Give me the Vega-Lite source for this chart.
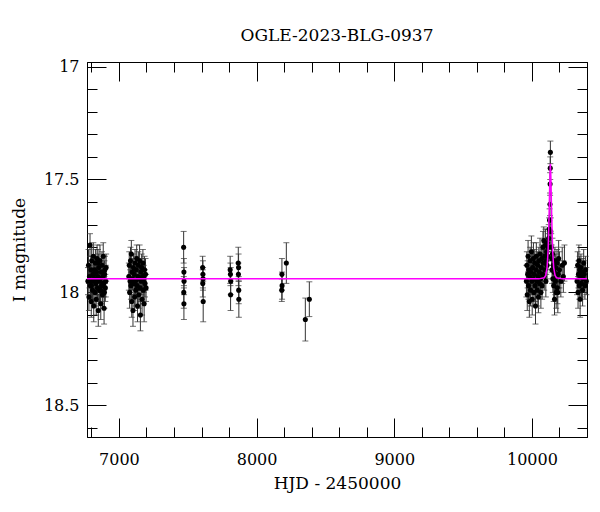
{
  "$schema": "https://vega.github.io/schema/vega-lite/v6.json",
  "width": 500,
  "height": 375,
  "autosize": {"type": "none"},
  "padding": {"left": 87, "top": 62, "right": 13, "bottom": 75},
  "background": "white",
  "title": {"text": "OGLE-2023-BLG-0937", "font": "DejaVu Serif", "fontSize": 17, "fontWeight": "normal", "color": "black", "offset": 14},
  "config": {"view": {"stroke": "black", "strokeWidth": 1}},
  "datasets": {
    "obs": [
      {"t":6775,"m":17.95,"e":0.06},{"t":6779,"m":17.88,"e":0.07},{"t":6782,"m":18.02,"e":0.06},{"t":6786,"m":17.93,"e":0.05},
      {"t":6790,"m":17.79,"e":0.05},{"t":6793,"m":17.97,"e":0.06},{"t":6796,"m":17.90,"e":0.06},{"t":6799,"m":18.04,"e":0.07},
      {"t":6800,"m":17.97,"e":0.06},{"t":6802,"m":17.86,"e":0.06},{"t":6805,"m":17.95,"e":0.05},{"t":6808,"m":17.99,"e":0.06},
      {"t":6811,"m":17.92,"e":0.06},{"t":6814,"m":17.84,"e":0.06},{"t":6817,"m":18.06,"e":0.07},{"t":6818,"m":17.92,"e":0.06},
      {"t":6820,"m":17.94,"e":0.05},{"t":6823,"m":17.90,"e":0.06},{"t":6826,"m":18.00,"e":0.06},{"t":6829,"m":17.87,"e":0.06},
      {"t":6832,"m":17.96,"e":0.05},{"t":6835,"m":18.03,"e":0.07},{"t":6836,"m":17.95,"e":0.06},{"t":6838,"m":17.91,"e":0.06},
      {"t":6841,"m":17.85,"e":0.06},{"t":6844,"m":17.98,"e":0.06},{"t":6847,"m":17.93,"e":0.05},{"t":6848,"m":17.87,"e":0.06},
      {"t":6850,"m":18.08,"e":0.07},{"t":6853,"m":17.89,"e":0.06},{"t":6856,"m":17.95,"e":0.06},{"t":6859,"m":17.99,"e":0.05},
      {"t":6862,"m":17.86,"e":0.07},{"t":6865,"m":17.94,"e":0.06},{"t":6866,"m":17.99,"e":0.06},{"t":6868,"m":18.05,"e":0.07},
      {"t":6871,"m":17.91,"e":0.06},{"t":6874,"m":17.97,"e":0.05},{"t":6877,"m":17.88,"e":0.06},{"t":6880,"m":18.01,"e":0.06},
      {"t":6883,"m":17.93,"e":0.06},{"t":6884,"m":17.96,"e":0.06},{"t":6886,"m":17.84,"e":0.06},{"t":6889,"m":17.96,"e":0.06},
      {"t":6892,"m":18.07,"e":0.07},{"t":6894,"m":18.00,"e":0.07},{"t":6895,"m":17.92,"e":0.06},{"t":6898,"m":17.90,"e":0.06},
      {"t":6901,"m":17.98,"e":0.06},{"t":6904,"m":17.95,"e":0.07},{"t":6907,"m":17.89,"e":0.06},
      {"t":7072,"m":17.93,"e":0.06},{"t":7075,"m":17.88,"e":0.06},{"t":7078,"m":18.00,"e":0.07},{"t":7081,"m":17.95,"e":0.05},
      {"t":7084,"m":17.86,"e":0.06},{"t":7087,"m":17.97,"e":0.06},{"t":7090,"m":17.83,"e":0.06},{"t":7093,"m":18.04,"e":0.07},
      {"t":7096,"m":17.91,"e":0.06},{"t":7099,"m":17.94,"e":0.05},{"t":7102,"m":18.08,"e":0.07},{"t":7105,"m":17.89,"e":0.06},
      {"t":7108,"m":17.96,"e":0.06},{"t":7111,"m":17.92,"e":0.05},{"t":7114,"m":18.02,"e":0.06},{"t":7117,"m":17.87,"e":0.06},
      {"t":7120,"m":17.95,"e":0.06},{"t":7123,"m":17.99,"e":0.07},{"t":7126,"m":17.90,"e":0.06},{"t":7129,"m":17.85,"e":0.06},
      {"t":7132,"m":17.97,"e":0.05},{"t":7135,"m":18.06,"e":0.07},{"t":7138,"m":17.93,"e":0.06},{"t":7141,"m":17.88,"e":0.06},
      {"t":7144,"m":18.01,"e":0.06},{"t":7147,"m":17.94,"e":0.05},{"t":7150,"m":17.86,"e":0.07},{"t":7153,"m":17.98,"e":0.06},
      {"t":7156,"m":18.10,"e":0.07},{"t":7159,"m":17.91,"e":0.06},{"t":7162,"m":17.95,"e":0.06},{"t":7165,"m":17.89,"e":0.06},
      {"t":7168,"m":18.03,"e":0.07},{"t":7171,"m":17.93,"e":0.06},{"t":7174,"m":17.87,"e":0.06},{"t":7177,"m":17.99,"e":0.06},
      {"t":7180,"m":17.94,"e":0.06},{"t":7183,"m":18.05,"e":0.08},{"t":7186,"m":17.90,"e":0.06},{"t":7189,"m":17.96,"e":0.06},
      {"t":7193,"m":17.92,"e":0.07},{"t":7197,"m":17.98,"e":0.06},
      {"t":7470,"m":17.80,"e":0.07},{"t":7472,"m":17.91,"e":0.06},{"t":7473,"m":17.95,"e":0.06},{"t":7471,"m":18.00,"e":0.07},{"t":7472,"m":18.05,"e":0.07},
      {"t":7608,"m":17.89,"e":0.05},{"t":7610,"m":17.92,"e":0.06},{"t":7611,"m":17.94,"e":0.05},{"t":7609,"m":17.96,"e":0.06},{"t":7612,"m":18.04,"e":0.09},
      {"t":7808,"m":17.90,"e":0.06},{"t":7810,"m":17.92,"e":0.05},{"t":7812,"m":17.95,"e":0.06},{"t":7811,"m":18.01,"e":0.07},
      {"t":7867,"m":17.87,"e":0.07},{"t":7869,"m":17.89,"e":0.06},{"t":7868,"m":17.92,"e":0.05},{"t":7870,"m":17.99,"e":0.06},{"t":7871,"m":18.03,"e":0.08},
      {"t":8184,"m":17.92,"e":0.07},{"t":8185,"m":17.97,"e":0.06},{"t":8183,"m":17.99,"e":0.05},{"t":8216,"m":17.87,"e":0.09},
      {"t":8354,"m":18.12,"e":0.095},{"t":8383,"m":18.03,"e":0.077},
      {"t":9960,"m":17.95,"e":0.07},{"t":9963,"m":17.88,"e":0.06},{"t":9966,"m":18.01,"e":0.07},{"t":9969,"m":17.92,"e":0.06},
      {"t":9972,"m":17.84,"e":0.07},{"t":9975,"m":17.97,"e":0.06},{"t":9978,"m":17.90,"e":0.06},{"t":9981,"m":18.04,"e":0.07},
      {"t":9984,"m":17.93,"e":0.06},{"t":9987,"m":17.86,"e":0.06},{"t":9990,"m":17.99,"e":0.07},{"t":9993,"m":17.91,"e":0.06},
      {"t":9996,"m":17.82,"e":0.07},{"t":9999,"m":17.95,"e":0.06},{"t":10002,"m":18.03,"e":0.07},{"t":10005,"m":17.89,"e":0.06},
      {"t":10008,"m":17.94,"e":0.06},{"t":10011,"m":17.85,"e":0.07},{"t":10014,"m":18.00,"e":0.06},{"t":10017,"m":17.92,"e":0.06},
      {"t":10020,"m":17.87,"e":0.06},{"t":10023,"m":17.97,"e":0.07},{"t":10026,"m":18.06,"e":0.08},{"t":10029,"m":17.90,"e":0.06},
      {"t":10032,"m":17.84,"e":0.06},{"t":10035,"m":17.95,"e":0.06},{"t":10038,"m":17.99,"e":0.07},{"t":10041,"m":17.88,"e":0.06},
      {"t":10044,"m":17.93,"e":0.06},{"t":10047,"m":18.02,"e":0.07},{"t":10050,"m":17.86,"e":0.06},{"t":10053,"m":17.91,"e":0.06},
      {"t":10056,"m":17.96,"e":0.06},{"t":10059,"m":17.83,"e":0.07},{"t":10062,"m":17.94,"e":0.06},{"t":10065,"m":18.00,"e":0.07},
      {"t":10068,"m":17.89,"e":0.06},{"t":10071,"m":17.85,"e":0.06},{"t":10074,"m":17.97,"e":0.06},{"t":10077,"m":17.92,"e":0.06},
      {"t":10080,"m":17.80,"e":0.07},{"t":10083,"m":17.87,"e":0.06},{"t":10086,"m":17.77,"e":0.06},{"t":10089,"m":17.93,"e":0.06},
      {"t":10092,"m":17.84,"e":0.06},{"t":10095,"m":17.90,"e":0.06},{"t":10098,"m":17.79,"e":0.07},{"t":10101,"m":17.95,"e":0.07},
      {"t":10104,"m":17.86,"e":0.06},{"t":10107,"m":17.82,"e":0.06},{"t":10110,"m":17.88,"e":0.06},{"t":10113,"m":17.78,"e":0.06},
      {"t":10116,"m":17.84,"e":0.06},{"t":10119,"m":17.80,"e":0.06},{"t":10122,"m":17.76,"e":0.06},{"t":10125,"m":17.72,"e":0.05},
      {"t":10128,"m":17.68,"e":0.05},{"t":10131,"m":17.61,"e":0.05},{"t":10132,"m":17.52,"e":0.05},{"t":10133,"m":17.45,"e":0.05},
      {"t":10134,"m":17.38,"e":0.05},{"t":10137,"m":17.73,"e":0.06},{"t":10140,"m":17.80,"e":0.06},{"t":10143,"m":17.85,"e":0.06},
      {"t":10146,"m":17.90,"e":0.06},{"t":10149,"m":17.83,"e":0.07},{"t":10152,"m":17.94,"e":0.06},{"t":10155,"m":17.88,"e":0.06},
      {"t":10158,"m":17.97,"e":0.07},{"t":10161,"m":17.91,"e":0.06},{"t":10164,"m":18.03,"e":0.07},{"t":10167,"m":17.86,"e":0.06},
      {"t":10170,"m":17.95,"e":0.06},{"t":10173,"m":17.89,"e":0.06},{"t":10176,"m":18.00,"e":0.07},{"t":10179,"m":17.93,"e":0.06},
      {"t":10182,"m":17.87,"e":0.06},{"t":10185,"m":17.98,"e":0.07},{"t":10188,"m":18.00,"e":0.09},{"t":10191,"m":17.92,"e":0.06},
      {"t":10194,"m":17.85,"e":0.08},{"t":10200,"m":17.90,"e":0.08},{"t":10210,"m":17.95,"e":0.07},{"t":10220,"m":17.88,"e":0.08},
      {"t":10228,"m":17.93,"e":0.07},{"t":10236,"m":17.87,"e":0.08},
      {"t":10328,"m":17.95,"e":0.06},{"t":10332,"m":17.88,"e":0.06},{"t":10335,"m":18.00,"e":0.07},{"t":10338,"m":17.92,"e":0.06},
      {"t":10341,"m":17.86,"e":0.07},{"t":10344,"m":17.97,"e":0.06},{"t":10347,"m":17.90,"e":0.06},{"t":10350,"m":18.03,"e":0.08},
      {"t":10353,"m":17.93,"e":0.06},{"t":10356,"m":17.89,"e":0.06},{"t":10360,"m":17.96,"e":0.06},{"t":10364,"m":17.91,"e":0.06},
      {"t":10368,"m":17.99,"e":0.07},{"t":10372,"m":17.94,"e":0.06},{"t":10376,"m":17.87,"e":0.06},{"t":10380,"m":17.92,"e":0.06},
      {"t":10385,"m":17.97,"e":0.06},{"t":10390,"m":17.90,"e":0.06},{"t":10395,"m":17.95,"e":0.06}
    ],
    "model": [
      {"t":6768,"m":17.94},{"t":10050,"m":17.94},{"t":10090,"m":17.935},{"t":10100,"m":17.925},{"t":10110,"m":17.89},
      {"t":10117,"m":17.82},{"t":10122,"m":17.72},{"t":10126,"m":17.62},{"t":10129,"m":17.53},{"t":10131,"m":17.48},
      {"t":10134,"m":17.43},{"t":10137,"m":17.48},{"t":10139,"m":17.53},{"t":10142,"m":17.62},{"t":10146,"m":17.72},
      {"t":10151,"m":17.82},{"t":10158,"m":17.89},{"t":10168,"m":17.925},{"t":10178,"m":17.935},{"t":10220,"m":17.94},{"t":10400,"m":17.94}
    ]
  },
  "resolve": {"axis": {"x": "independent", "y": "independent"}},
  "layer": [
    {
      "data": {"name": "obs"},
      "mark": {"type": "errorbar", "ticks": {"size": 6, "color": "#333"}, "color": "#333", "thickness": 1},
      "encoding": {
        "x": {"field": "t", "type": "quantitative", "scale": {"domain": [6768, 10400], "nice": false, "zero": false}, "axis": null},
        "y": {"field": "m", "type": "quantitative", "scale": {"domain": [16.98, 18.64], "nice": false, "zero": false, "reverse": true}, "axis": null},
        "yError": {"field": "e"}
      }
    },
    {
      "data": {"name": "obs"},
      "mark": {"type": "point", "filled": true, "color": "black", "opacity": 1, "size": 26},
      "encoding": {
        "x": {"field": "t", "type": "quantitative", "scale": {"domain": [6768, 10400], "nice": false, "zero": false},
          "axis": {"orient": "bottom", "values": [6800,7000,7200,7400,7600,7800,8000,8200,8400,8600,8800,9000,9200,9400,9600,9800,10000,10200],
            "labelExpr": "datum.value % 1000 === 0 ? format(datum.value, 'd') : ''",
            "tickSize": {"condition": {"test": "datum.value % 1000 === 0", "value": -19}, "value": -10},
            "tickColor": "black", "domainColor": "black", "grid": false, "labelFlush": false, "labelOverlap": false,
            "labelFont": "DejaVu Serif", "labelFontSize": 16, "labelColor": "black", "labelPadding": 33,
            "title": "HJD - 2450000", "titleFont": "DejaVu Serif", "titleFontSize": 17, "titleFontWeight": "normal", "titleColor": "black", "titlePadding": -1}},
        "y": {"field": "m", "type": "quantitative", "scale": {"domain": [16.98, 18.64], "nice": false, "zero": false, "reverse": true},
          "axis": {"orient": "left", "values": [17,17.1,17.2,17.3,17.4,17.5,17.6,17.7,17.8,17.9,18,18.1,18.2,18.3,18.4,18.5,18.6],
            "labelExpr": "round(datum.value*10) % 5 === 0 ? format(datum.value, '~g') : ''",
            "tickSize": {"condition": {"test": "round(datum.value*10) % 5 === 0", "value": -19}, "value": -10},
            "tickColor": "black", "domainColor": "black", "grid": false, "labelFlush": false, "labelOverlap": false,
            "labelFont": "DejaVu Serif", "labelFontSize": 16, "labelColor": "black", "labelPadding": 27,
            "title": "I magnitude", "titleFont": "DejaVu Serif", "titleFontSize": 17, "titleFontWeight": "normal", "titleColor": "black", "titlePadding": 15}}
      }
    },
    {
      "data": {"name": "model"},
      "mark": {"type": "line", "color": "#ff00ff", "strokeWidth": 1.5},
      "encoding": {
        "x": {"field": "t", "type": "quantitative", "scale": {"domain": [6768, 10400], "nice": false, "zero": false},
          "axis": {"orient": "top", "values": [6800,7000,7200,7400,7600,7800,8000,8200,8400,8600,8800,9000,9200,9400,9600,9800,10000,10200],
            "labels": false, "title": null, "grid": false,
            "tickSize": {"condition": {"test": "datum.value % 1000 === 0", "value": -19}, "value": -10},
            "tickColor": "black", "domainColor": "black"}},
        "y": {"field": "m", "type": "quantitative", "scale": {"domain": [16.98, 18.64], "nice": false, "zero": false, "reverse": true},
          "axis": {"orient": "right", "values": [17,17.1,17.2,17.3,17.4,17.5,17.6,17.7,17.8,17.9,18,18.1,18.2,18.3,18.4,18.5,18.6],
            "labels": false, "title": null, "grid": false,
            "tickSize": {"condition": {"test": "round(datum.value*10) % 5 === 0", "value": -19}, "value": -10},
            "tickColor": "black", "domainColor": "black"}}
      }
    }
  ]
}
